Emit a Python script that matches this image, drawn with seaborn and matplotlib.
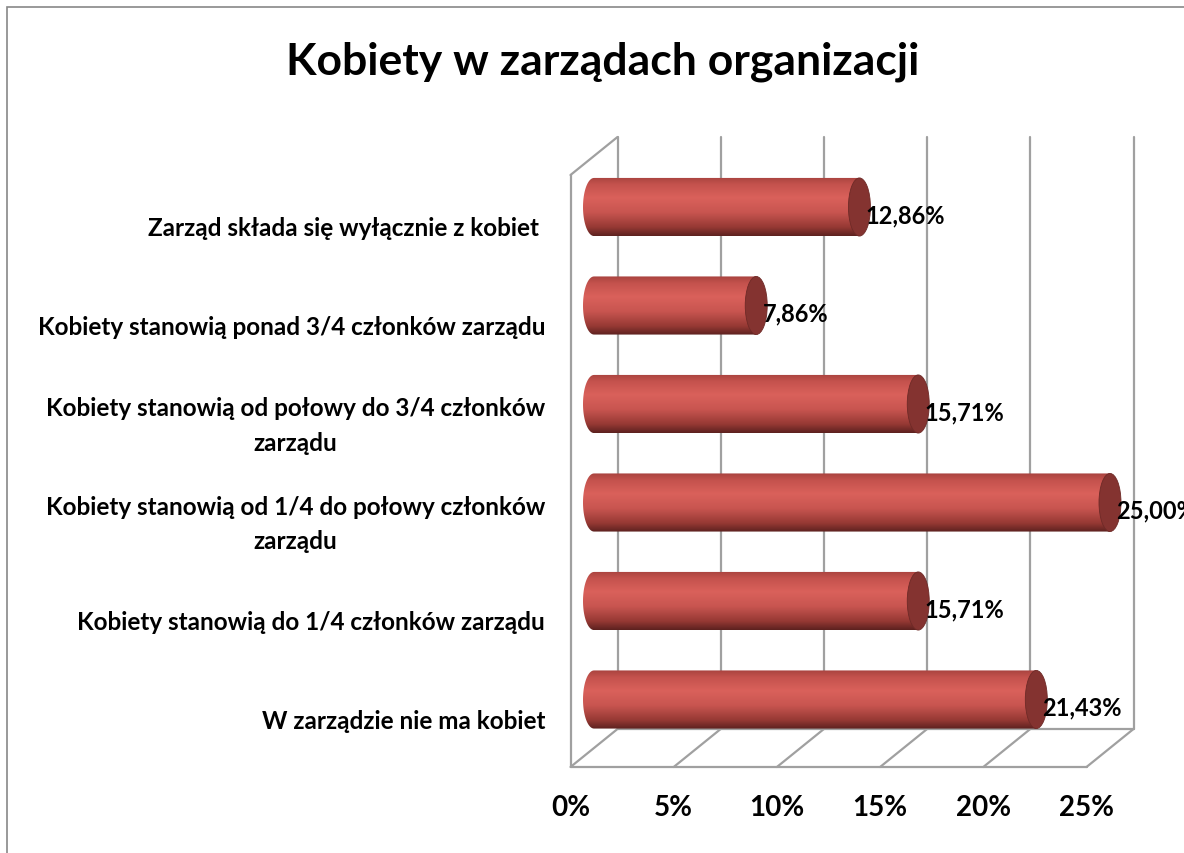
import numpy as np
import pandas as pd
import matplotlib
matplotlib.use("Agg")
import matplotlib.pyplot as plt
import seaborn as sns
from matplotlib.path import Path
from matplotlib.patches import PathPatch, Ellipse, Rectangle
from matplotlib.colors import LinearSegmentedColormap


# Dane
kategorie = [
    "Zarząd składa się wyłącznie z kobiet ",
    "Kobiety stanowią ponad 3/4 członków zarządu",
    "Kobiety stanowią od połowy do 3/4 członków\nzarządu",
    "Kobiety stanowią od 1/4 do połowy członków\nzarządu",
    "Kobiety stanowią do 1/4 członków zarządu",
    "W zarządzie nie ma kobiet",
]
procenty = [12.86, 7.86, 15.71, 25.00, 15.71, 21.43]
ticki = [0, 5, 10, 15, 20, 25]
etykiety_ticki = ["0%", "5%", "10%", "15%", "20%", "25%"]
tytul = "Kobiety w zarządach organizacji"

df = pd.DataFrame({"kategoria": kategorie, "procent": procenty})

W, H = 1184, 854
sns.set_theme(style="white")
plt.rcParams["font.family"] = ["Lato", "DejaVu Sans"]

fig = plt.figure(figsize=(W / 100, H / 100), dpi=100)

# os: piksele 560..1160 w poziomie, 120..790 w pionie
ax = fig.add_axes([560 / W, 1 - 790 / H, 600 / W, 670 / H])
sx = 20.64   # px na 1%
sy = 98.5    # px na kategorie
xlim = ((560 - 594) / sx, (1160 - 594) / sx)
ylim = ((790 - 208) / sy, (120 - 208) / sy)

sns.barplot(data=df, x="procent", y="kategoria", orient="h", width=0.59,
            color="#C0504D", ax=ax, zorder=3)
ax.axis("off")

# Glebokosc 3D (w jednostkach danych)
dx = 23.5 / sx
dy = 19.0 / sy
y_top = (138 - 208) / sy + dy       # gora sciany w plaszczyznie slupkow
y_floor = (749 - 208) / sy           # podloga w plaszczyznie slupkow
grid_kw = dict(color="#A0A0A0", lw=1.6, zorder=1, solid_capstyle="round")

# sciana tylna - linie siatki
for t in ticki:
    ax.plot([t + dx, t + dx], [y_top - dy, y_floor - dy], **grid_kw)
# sciana boczna
ax.plot([-dx, -dx], [y_top + dy, y_floor + dy], **grid_kw)
ax.plot([-dx, dx], [y_top + dy, y_top - dy], **grid_kw)
# podloga
ax.plot([-dx, ticki[-1] - dx], [y_floor + dy, y_floor + dy], **grid_kw)
ax.plot([dx, ticki[-1] + dx], [y_floor - dy, y_floor - dy], **grid_kw)
for t in ticki:
    ax.plot([t - dx, t + dx], [y_floor + dy, y_floor - dy], **grid_kw)

# Cylindry: gradient na slupkach
cmap = LinearSegmentedColormap.from_list("cyl", [
    (0.0, "#A8433F"), (0.12, "#C4524D"), (0.35, "#DA615B"),
    (0.6, "#C85550"), (0.85, "#963934"), (1.0, "#5C211F")])
grad = np.linspace(0, 1, 256).reshape(-1, 1)
ew = 22 / sx  # szerokosc elipsy konca

for bar in ax.patches:
    x0, y0 = bar.get_x(), bar.get_y()
    w, h = bar.get_width(), bar.get_height()
    bar.set_visible(False)
    yc = y0 + h / 2
    # ksztalt: lewa polelipsa + prostokat
    th = np.linspace(np.pi / 2, 3 * np.pi / 2, 40)
    lx = x0 + ew / 2 * np.cos(th)
    ly = yc - h / 2 * np.sin(th)
    verts = list(zip(lx, ly)) + [(x0 + w, y0 + h), (x0 + w, y0), (x0, y0)]
    path = Path(verts + [verts[0]],
                [Path.MOVETO] + [Path.LINETO] * (len(verts) - 1) + [Path.CLOSEPOLY])
    clip = PathPatch(path, transform=ax.transData, facecolor="none", edgecolor="none")
    ax.add_patch(clip)
    im = ax.imshow(grad, cmap=cmap, aspect="auto", origin="upper",
                   extent=(x0 - ew, x0 + w, y0 + h, y0), zorder=3)
    im.set_clip_path(clip)
    # koniec cylindra
    ax.add_patch(Ellipse((x0 + w, yc), ew, h, facecolor="#843330",
                         edgecolor="#6E2A27", lw=0.6, zorder=4))

ax.set_xlim(*xlim)
ax.set_ylim(*ylim)

# Etykiety wartosci
for i, v in enumerate(procenty):
    ax.text(v + 0.3, i + 0.08, f"{v:.2f}%".replace(".", ","), ha="left", va="center",
            fontsize=17, fontweight="bold", color="black", zorder=5, clip_on=False)

# Etykiety kategorii
for i, k in enumerate(kategorie):
    ax.text((545 - 594) / sx, i + dy + 0.02, k, ha="right", va="center",
            multialignment="center", fontsize=17.5, fontweight="bold", color="black",
            linespacing=1.6, clip_on=False)

# Etykiety osi X
for t, lab in zip(ticki, etykiety_ticki):
    ax.text(t - dx, (808 - 208) / sy, lab, ha="center", va="center",
            fontsize=20, fontweight="bold", color="black", clip_on=False)

fig.text(603 / W, 1 - 62 / H, tytul, ha="center", va="center",
         fontsize=32, fontweight="bold", color="black")

# Ramka wykresu
fig.add_artist(Rectangle((7 / W, -0.1), 2, 1.1 - 8 / H, transform=fig.transFigure,
                         fill=False, edgecolor="#888888", lw=1.2))

fig.savefig("out.png", dpi=100)
